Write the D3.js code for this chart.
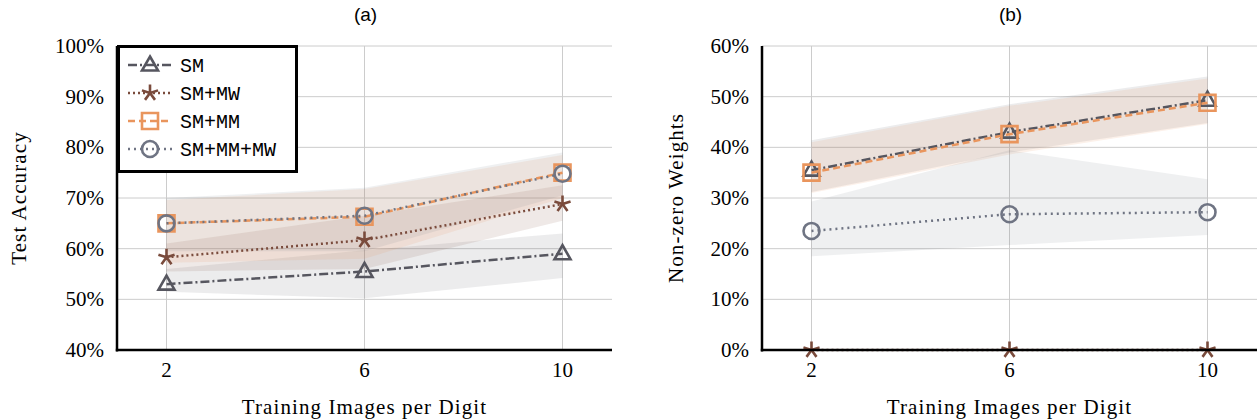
<!DOCTYPE html>
<html>
<head>
<meta charset="utf-8">
<script src="https://cdn.jsdelivr.net/npm/d3@7"></script>
<style>
  body { margin: 0; background: #fff; }
</style>
</head>
<body>
<div id="chart"></div>
<script>
const trainImages = [2, 6, 10];
const seriesNames = ["SM", "SM+MW", "SM+MM", "SM+MM+MW"];

// (a) test accuracy, percent
const accSM = [53.0, 55.5, 59.0];
const accSMLo = [51.5, 50.2, 54.2];
const accSMHi = [56.0, 59.7, 63.0];
const accMW = [58.3, 61.7, 68.8];
const accMWLo = [55.5, 56.0, 65.5];
const accMWHi = [61.0, 66.5, 72.5];
const accMM = [65.0, 66.3, 75.0];
const accMMLo = [57.2, 58.0, 70.0];
const accMMHi = [69.6, 71.8, 78.5];
const accMMMW = [65.0, 66.5, 74.8];
const accMMMWLo = [59.5, 59.5, 70.5];
const accMMMWHi = [70.0, 72.0, 79.0];

// (b) non-zero weights, percent
const nzSM = [35.5, 43.0, 49.3];
const nzSMLo = [31.2, 39.0, 44.8];
const nzSMHi = [41.4, 48.5, 54.0];
const nzMW = [0, 0, 0];
const nzMM = [35.0, 42.6, 48.8];
const nzMMLo = [31.0, 38.6, 44.6];
const nzMMHi = [41.0, 48.2, 53.6];
const nzMMMW = [23.5, 26.8, 27.2];
const nzMMMWLo = [18.5, 20.7, 22.7];
const nzMMMWHi = [29.3, 39.4, 33.7];

const accTicks = [40, 50, 60, 70, 80, 90, 100];
const nzTicks = [0, 10, 20, 30, 40, 50, 60];

const colors = ["#56565f", "#7a4b3c", "#e9955d", "#6f7483"];
const bandOpacity = [0.11, 0.12, 0.13, 0.11];
const dashes = ["9,3,2,3", "2,3", "7,4", "2,4"];
const markers = ["triangle", "star", "square", "circle"];

const W = 1257, H = 420;
const svg = d3.select("#chart").append("svg")
  .attr("width", W).attr("height", H);

const serif = "'Liberation Serif', 'DejaVu Serif', serif";

function markerPath(type) {
  if (type === "triangle") return "M0,-8.5L8,5.5L-8,5.5Z";
  if (type === "square") return "M-8,-8H8V8H-8Z";
  if (type === "circle") return "M8,0A8,8 0 1,1 -8,0A8,8 0 1,1 8,0Z";
  // five-armed asterisk
  let p = "";
  for (let i = 0; i < 5; i++) {
    const a = -Math.PI / 2 + i * 2 * Math.PI / 5;
    p += "M0,0L" + (8.5 * Math.cos(a)).toFixed(2) + "," + (8.5 * Math.sin(a)).toFixed(2);
  }
  return p;
}

function drawMarker(g, type, color, x, y) {
  g.append("path")
    .attr("d", markerPath(type))
    .attr("transform", `translate(${x},${y})`)
    .attr("fill", "none")
    .attr("stroke", color)
    .attr("stroke-width", 2.6);
}

function drawPanel(left, opts) {
  const top = 46, bottom = 350, width = 495;
  const x = d3.scaleLinear().domain([1, 11]).range([left, left + width]);
  const y = d3.scaleLinear().domain(opts.domain).range([bottom, top]);
  const g = svg.append("g");

  // grid
  g.selectAll(".hgrid").data(opts.ticks).enter().append("line")
    .attr("x1", left).attr("x2", left + width)
    .attr("y1", d => y(d)).attr("y2", d => y(d))
    .attr("stroke", "#cccccc").attr("stroke-width", 1);
  g.selectAll(".vgrid").data(trainImages).enter().append("line")
    .attr("x1", d => x(d)).attr("x2", d => x(d))
    .attr("y1", top).attr("y2", bottom)
    .attr("stroke", "#cccccc").attr("stroke-width", 1);

  // bands
  const area = d3.area()
    .x((d, i) => x(trainImages[i]))
    .y0(d => y(d[0])).y1(d => y(d[1]));
  opts.series.forEach((s, k) => {
    if (!s.lo) return;
    g.append("path")
      .datum(s.lo.map((v, i) => [v, s.hi[i]]))
      .attr("d", area)
      .attr("fill", colors[k])
      .attr("fill-opacity", bandOpacity[k]);
  });

  // lines and markers
  const line = d3.line().x((d, i) => x(trainImages[i])).y(d => y(d));
  opts.series.forEach((s, k) => {
    g.append("path")
      .datum(s.mean)
      .attr("d", line)
      .attr("fill", "none")
      .attr("stroke", colors[k])
      .attr("stroke-width", 2.5)
      .attr("stroke-dasharray", dashes[k]);
    s.mean.forEach((v, i) => drawMarker(g, markers[k], colors[k], x(trainImages[i]), y(v)));
  });

  // spines
  g.append("line").attr("x1", left).attr("x2", left)
    .attr("y1", top).attr("y2", bottom + 1.5)
    .attr("stroke", "#000").attr("stroke-width", 2.5);
  g.append("line").attr("x1", left - 1.2).attr("x2", left + width)
    .attr("y1", bottom).attr("y2", bottom)
    .attr("stroke", "#000").attr("stroke-width", 2.5);

  // tick labels
  g.selectAll(".ylab").data(opts.ticks).enter().append("text")
    .attr("x", left - 13).attr("y", d => y(d) + 7)
    .attr("text-anchor", "end")
    .attr("font-family", serif).attr("font-size", 21)
    .text(d => d + "%");
  g.selectAll(".xlab").data(trainImages).enter().append("text")
    .attr("x", d => x(d)).attr("y", bottom + 27)
    .attr("text-anchor", "middle")
    .attr("font-family", serif).attr("font-size", 21)
    .text(d => d);

  // axis titles
  g.append("text")
    .attr("x", left + width / 2).attr("y", 414)
    .attr("text-anchor", "middle")
    .attr("font-family", serif).attr("font-size", 21)
    .attr("letter-spacing", 1.1)
    .text("Training Images per Digit");
  g.append("text")
    .attr("transform", `translate(${opts.ylabX},${(top + bottom) / 2}) rotate(-90)`)
    .attr("text-anchor", "middle")
    .attr("font-family", serif).attr("font-size", 21)
    .attr("letter-spacing", 1.1)
    .text(opts.ylabel);
  g.append("text")
    .attr("x", left + width / 2 + 1).attr("y", 21)
    .attr("text-anchor", "middle")
    .attr("font-family", "'Liberation Sans', Arial, sans-serif").attr("font-size", 19)
    .text(opts.title);
  return g;
}

drawPanel(117, {
  domain: [40, 100], ticks: accTicks, ylabel: "Test Accuracy", ylabX: 26, title: "(a)",
  series: [
    {mean: accSM, lo: accSMLo, hi: accSMHi},
    {mean: accMW, lo: accMWLo, hi: accMWHi},
    {mean: accMM, lo: accMMLo, hi: accMMHi},
    {mean: accMMMW, lo: accMMMWLo, hi: accMMMWHi}
  ]
});

drawPanel(762, {
  domain: [0, 60], ticks: nzTicks, ylabel: "Non-zero Weights", ylabX: 683, title: "(b)",
  series: [
    {mean: nzSM, lo: nzSMLo, hi: nzSMHi},
    {mean: nzMW},
    {mean: nzMM, lo: nzMMLo, hi: nzMMHi},
    {mean: nzMMMW, lo: nzMMMWLo, hi: nzMMMWHi}
  ]
});

// legend in panel (a)
const leg = svg.append("g");
leg.append("rect")
  .attr("x", 118.5).attr("y", 46.5).attr("width", 178).attr("height", 125)
  .attr("fill", "#fff").attr("stroke", "#000").attr("stroke-width", 3);
seriesNames.forEach((name, k) => {
  const cy = 65 + k * 28;
  leg.append("line")
    .attr("x1", 128).attr("x2", 172).attr("y1", cy).attr("y2", cy)
    .attr("stroke", colors[k]).attr("stroke-width", 2.5)
    .attr("stroke-dasharray", dashes[k]);
  drawMarker(leg, markers[k], colors[k], 150, cy);
  leg.append("text")
    .attr("x", 180).attr("y", cy + 7)
    .attr("font-family", "'Liberation Mono', 'DejaVu Sans Mono', monospace")
    .attr("font-size", 20)
    .text(name);
});
</script>
</body>
</html>
